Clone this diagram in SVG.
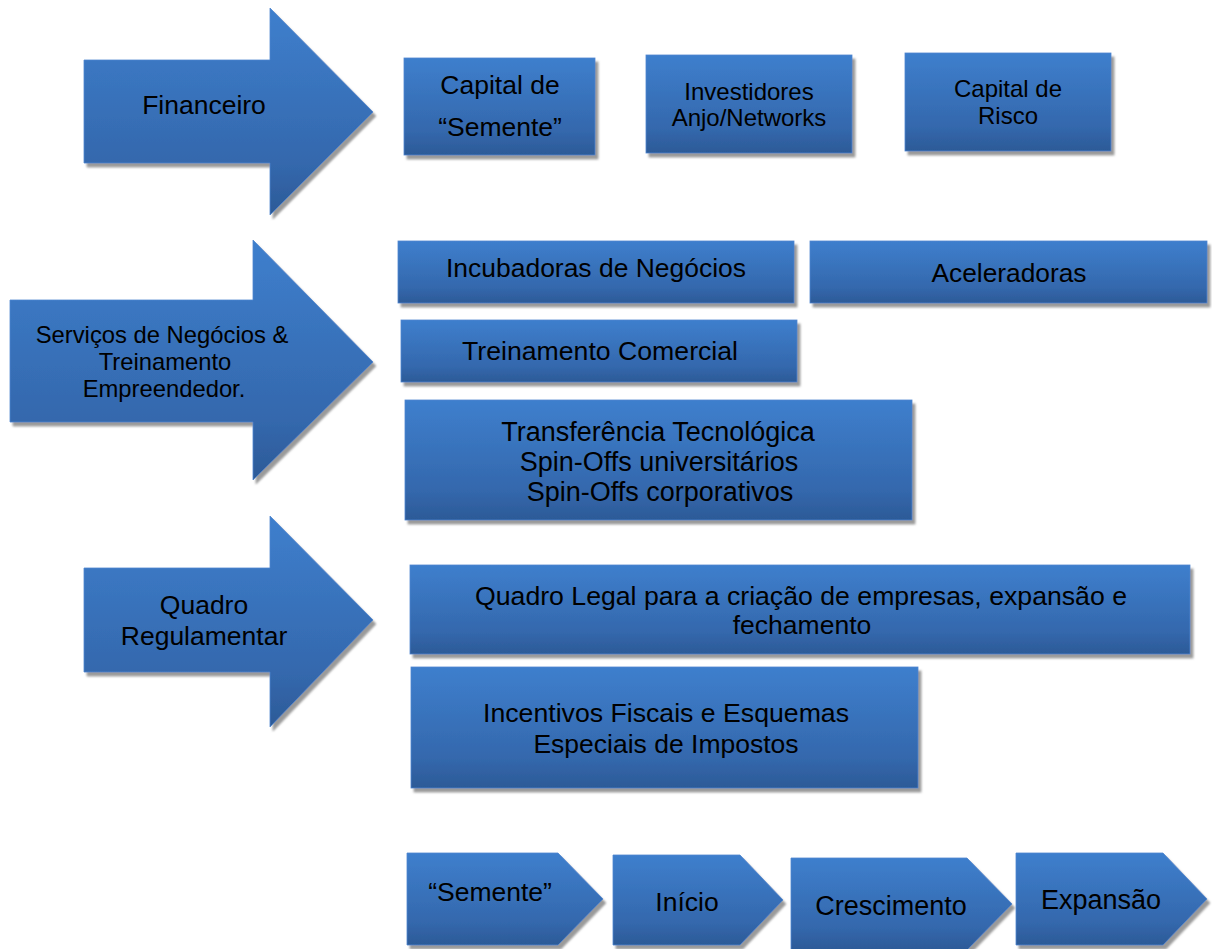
<svg xmlns="http://www.w3.org/2000/svg" width="1212" height="949" viewBox="0 0 1212 949">
<defs>
<linearGradient id="g" x1="0" y1="0" x2="0" y2="1">
<stop offset="0" stop-color="#3e7fcd"/>
<stop offset="0.75" stop-color="#3468ad"/>
<stop offset="1" stop-color="#2c5a97"/>
</linearGradient>
<filter id="sh" x="-5%" y="-5%" width="112%" height="115%">
<feGaussianBlur in="SourceAlpha" stdDeviation="0.8"/>
<feOffset dx="3" dy="4" result="o"/>
<feFlood flood-color="#9a9a9a"/>
<feComposite in2="o" operator="in"/>
<feMerge><feMergeNode/><feMergeNode in="SourceGraphic"/></feMerge>
</filter>
</defs>
<style>
.s{fill:url(#g);stroke:#4f86cf;stroke-width:0.8;filter:url(#sh)}
text{font-family:"Liberation Sans",Arial,sans-serif;fill:#000;text-anchor:middle;font-size:26.5px}
</style>
<rect width="1212" height="949" fill="#fff"/>
<g id="connectors"></g>

<g id="arrow-financeiro">
<polygon class="s" points="84,60 270,60 270,8 373,112 270,215 270,163 84,163"/>
<text x="204" y="114">Financeiro</text>
</g>
<g id="arrow-servicos">
<polygon class="s" points="10,300 253,300 253,240 373,362 253,480 253,422 10,422"/>
<text x="162" y="343" style="font-size:23.8px">Serviços de Negócios &amp;</text>
<text x="165" y="370" style="font-size:23.8px">Treinamento</text>
<text x="164" y="397" style="font-size:23.8px">Empreendedor.</text>
</g>
<g id="arrow-quadro">
<polygon class="s" points="84,568 270,568 270,516 373,620 270,727 270,672 84,672"/>
<text x="204" y="614">Quadro</text>
<text x="204" y="645">Regulamentar</text>
</g>

<g id="box-capital-semente">
<rect class="s" x="404" y="58" width="191" height="97"/>
<text x="500" y="94">Capital de</text>
<text x="500" y="136">“Semente”</text>
</g>
<g id="box-investidores">
<rect class="s" x="646" y="55" width="206" height="98"/>
<text x="749" y="100" style="font-size:24px">Investidores</text>
<text x="749" y="126" style="font-size:24px">Anjo/Networks</text>
</g>
<g id="box-capital-risco">
<rect class="s" x="905" y="53" width="206" height="98"/>
<text x="1008" y="97" style="font-size:24px">Capital de</text>
<text x="1008" y="124" style="font-size:24px">Risco</text>
</g>

<g id="box-incubadoras">
<rect class="s" x="398" y="241" width="396" height="62"/>
<text x="596" y="277" textLength="300" lengthAdjust="spacingAndGlyphs">Incubadoras de Negócios</text>
</g>
<g id="box-aceleradoras">
<rect class="s" x="810" y="241" width="397" height="62"/>
<text x="1009" y="282" textLength="155" lengthAdjust="spacingAndGlyphs">Aceleradoras</text>
</g>
<g id="box-treinamento">
<rect class="s" x="401" y="320" width="396" height="62"/>
<text x="600" y="360" textLength="276" lengthAdjust="spacingAndGlyphs">Treinamento Comercial</text>
</g>
<g id="box-transferencia">
<rect class="s" x="405" y="400" width="507" height="120"/>
<text x="658" y="441" style="font-size:27px">Transferência Tecnológica</text>
<text x="659" y="471" style="font-size:27px">Spin-Offs universitários</text>
<text x="660" y="501" style="font-size:27px">Spin-Offs corporativos</text>
</g>

<g id="box-quadro-legal">
<rect class="s" x="410" y="565" width="780" height="89"/>
<text x="801" y="605" textLength="652" lengthAdjust="spacingAndGlyphs">Quadro Legal para a criação de empresas, expansão e</text>
<text x="802" y="634">fechamento</text>
</g>
<g id="box-incentivos">
<rect class="s" x="411" y="667" width="507" height="121"/>
<text x="666" y="722" textLength="366" lengthAdjust="spacingAndGlyphs">Incentivos Fiscais e Esquemas</text>
<text x="666" y="753">Especiais de Impostos</text>
</g>

<g id="stage-semente">
<polygon class="s" points="407,853 558,853 603,899 558,945 407,945"/>
<text x="490" y="901">“Semente”</text>
</g>
<g id="stage-inicio">
<polygon class="s" points="613,855 740,855 783,900 740,945 613,945"/>
<text x="687" y="911">Início</text>
</g>
<g id="stage-crescimento">
<polygon class="s" points="791,858 967,858 1012,904 967,950 791,950"/>
<text x="891" y="915" style="font-size:27px">Crescimento</text>
</g>
<g id="stage-expansao">
<polygon class="s" points="1016,853 1163,853 1207,899 1163,945 1016,945"/>
<text x="1101" y="909" style="font-size:27px">Expansão</text>
</g>
</svg>
